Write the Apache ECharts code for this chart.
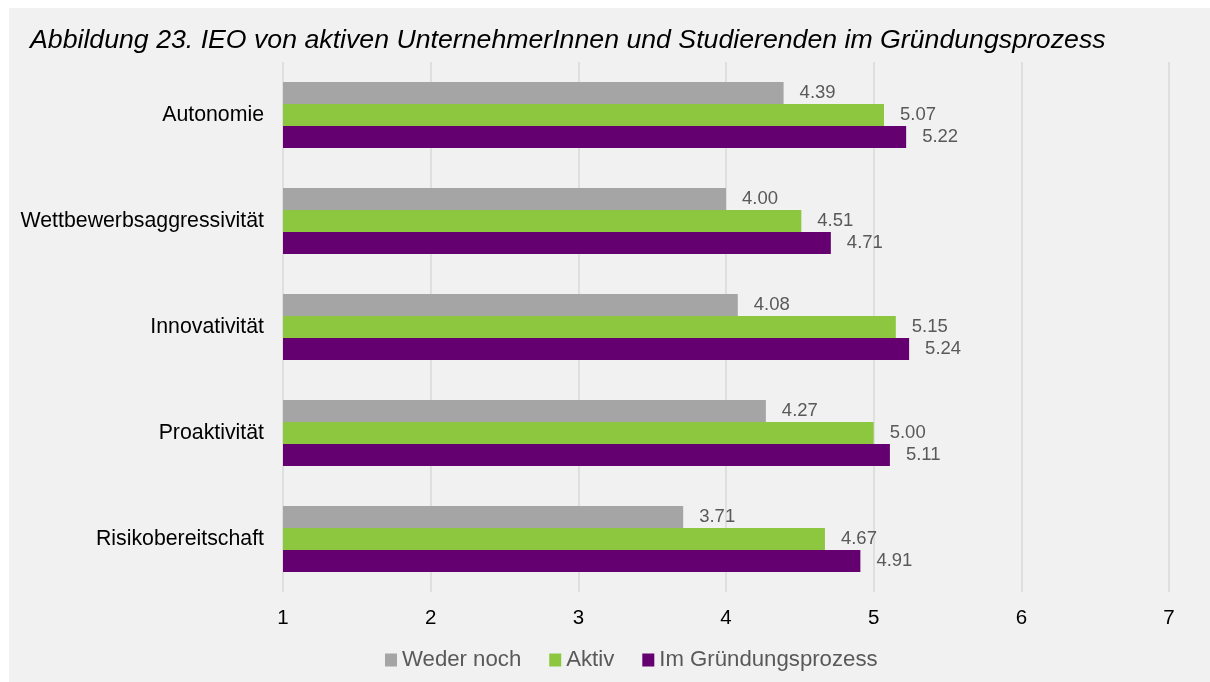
<!DOCTYPE html>
<html>
<head>
<meta charset="utf-8">
<script src="https://cdn.jsdelivr.net/npm/echarts@6/dist/echarts.min.js"></script>
<style>
  html, body { margin: 0; padding: 0; background: #ffffff; }
  #chart { position: absolute; left: 9px; top: 8px; width: 1201px; height: 674px; background: #f1f1f1; }
</style>
</head>
<body>
<div id="chart"></div>
<script>
  // Daten
  const kategorien = ["Autonomie", "Wettbewerbsaggressivität", "Innovativität", "Proaktivität", "Risikobereitschaft"];
  const wederNoch = [4.39, 4.00, 4.08, 4.27, 3.71];
  const aktiv = [5.07, 4.51, 5.15, 5.00, 4.67];
  const imGruendung = [5.22, 4.71, 5.24, 5.11, 4.91];
  const xTicks = [1, 2, 3, 4, 5, 6, 7];

  const font = "'Liberation Sans', Arial, sans-serif";

  const chart = echarts.init(document.getElementById("chart"));

  const labelStyle = {
    show: true,
    position: "right",
    distance: 16,
    color: "#595959",
    fontSize: 18.5,
    fontFamily: font,
    formatter: (p) => p.value.toFixed(2),
  };

  const makeSeries = (name, data, color) => ({
    name,
    type: "bar",
    data,
    barWidth: 22,
    barGap: "0%",
    itemStyle: { color },
    label: labelStyle,
  });

  const option = {
    animation: false,
    title: {
      text: "Abbildung 23. IEO von aktiven UnternehmerInnen und Studierenden im Gründungsprozess",
      left: 16,
      top: 14,
      textStyle: {
        fontFamily: font,
        fontStyle: "italic",
        fontWeight: "normal",
        fontSize: 26.7,
        color: "#000000",
      },
    },
    legend: {
      bottom: 6,
      left: 371,
      itemWidth: 12,
      itemHeight: 13,
      itemGap: 28,
      icon: "rect",
      textStyle: { fontFamily: font, fontSize: 22.2, color: "#595959" },
      data: ["Weder noch", "Aktiv", "Im Gründungsprozess"],
    },
    grid: {
      left: 274,
      right: 41,
      top: 54,
      bottom: 90,
      containLabel: false,
    },
    xAxis: {
      type: "value",
      min: xTicks[0],
      max: xTicks[xTicks.length - 1],
      interval: 1,
      axisLine: { show: false },
      axisTick: { show: false },
      axisLabel: { color: "#000000", fontSize: 20.5, fontFamily: font, margin: 16 },
      splitLine: { lineStyle: { color: "#d9d9d9", width: 1.5 } },
    },
    yAxis: {
      type: "category",
      data: kategorien,
      inverse: true,
      axisLine: { show: false },
      axisTick: { show: false },
      axisLabel: { color: "#000000", fontSize: 21.3, fontFamily: font, margin: 19 },
    },
    series: [
      makeSeries("Weder noch", wederNoch, "#a5a5a5"),
      makeSeries("Aktiv", aktiv, "#8dc63f"),
      makeSeries("Im Gründungsprozess", imGruendung, "#640070"),
    ],
  };

  chart.setOption(option);
  window.addEventListener("resize", () => chart.resize());
</script>
</body>
</html>
